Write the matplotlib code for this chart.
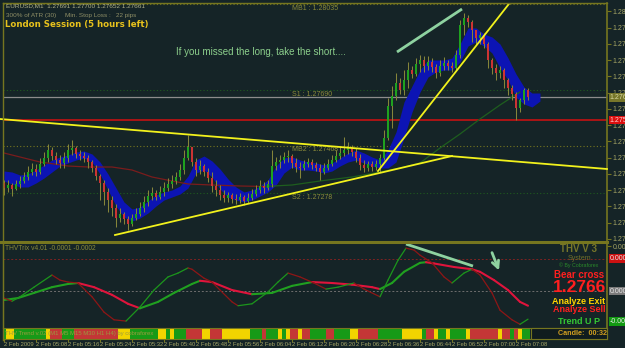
import numpy as np
import matplotlib
matplotlib.use("Agg")
import matplotlib.pyplot as plt
from matplotlib.collections import LineCollection
from matplotlib.transforms import blended_transform_factory as blend

plt.rcParams['font.family'] = ['Liberation Sans', 'DejaVu Sans']

# ---------------- data ----------------
first_open = 1.27318
close = [1.27298, 1.27310, 1.27294, 1.27314, 1.27326, 1.27342, 1.27362, 1.27374, 1.27362, 1.27394,
         1.27418, 1.27450, 1.27426, 1.27410, 1.27398, 1.27418, 1.27450, 1.27458, 1.27434, 1.27426,
         1.27418, 1.27402, 1.27378, 1.27346, 1.27318, 1.27282, 1.27250, 1.27218, 1.27178, 1.27194,
         1.27174, 1.27154, 1.27178, 1.27194, 1.27218, 1.27242, 1.27266, 1.27278, 1.27262, 1.27282,
         1.27298, 1.27314, 1.27326, 1.27342, 1.27370, 1.27418, 1.27462, 1.27402, 1.27370, 1.27386,
         1.27362, 1.27338, 1.27306, 1.27290, 1.27270, 1.27258, 1.27270, 1.27254, 1.27250, 1.27262,
         1.27246, 1.27258, 1.27274, 1.27290, 1.27306, 1.27298, 1.27314, 1.27386, 1.27402, 1.27410,
         1.27422, 1.27426, 1.27398, 1.27382, 1.27378, 1.27394, 1.27402, 1.27390, 1.27378, 1.27362,
         1.27378, 1.27394, 1.27410, 1.27426, 1.27438, 1.27450, 1.27458, 1.27442, 1.27418, 1.27390,
         1.27378, 1.27394, 1.27382, 1.27394, 1.27418, 1.27498, 1.27626, 1.27666, 1.27718, 1.27690,
         1.27730, 1.27770, 1.27754, 1.27794, 1.27810, 1.27786, 1.27802, 1.27782, 1.27758, 1.27786,
         1.27798, 1.27786, 1.27778, 1.27830, 1.27950, 1.27978, 1.27962, 1.27930, 1.27898, 1.27910,
         1.27874, 1.27810, 1.27778, 1.27758, 1.27770, 1.27730, 1.27698, 1.27674, 1.27618, 1.27650,
         1.27691, 1.27661]
high = [1.27330, 1.27330, 1.27318, 1.27330, 1.27346, 1.27362, 1.27386, 1.27398, 1.27394, 1.27418,
        1.27442, 1.27474, 1.27462, 1.27442, 1.27430, 1.27442, 1.27474, 1.27490, 1.27466, 1.27450,
        1.27442, 1.27430, 1.27410, 1.27390, 1.27354, 1.27330, 1.27298, 1.27266, 1.27234, 1.27218,
        1.27202, 1.27186, 1.27194, 1.27218, 1.27242, 1.27266, 1.27290, 1.27302, 1.27290, 1.27306,
        1.27322, 1.27338, 1.27350, 1.27362, 1.27394, 1.27450, 1.27510, 1.27462, 1.27418, 1.27410,
        1.27394, 1.27378, 1.27362, 1.27330, 1.27310, 1.27290, 1.27282, 1.27278, 1.27274, 1.27278,
        1.27270, 1.27278, 1.27294, 1.27310, 1.27330, 1.27322, 1.27330, 1.27450, 1.27422, 1.27430,
        1.27442, 1.27450, 1.27434, 1.27418, 1.27402, 1.27410, 1.27418, 1.27414, 1.27402, 1.27394,
        1.27398, 1.27414, 1.27430, 1.27450, 1.27462, 1.27502, 1.27482, 1.27470, 1.27458, 1.27434,
        1.27410, 1.27406, 1.27406, 1.27410, 1.27434, 1.27530, 1.27658, 1.27706, 1.27758, 1.27738,
        1.27770, 1.27802, 1.27786, 1.27818, 1.27830, 1.27826, 1.27826, 1.27818, 1.27794, 1.27810,
        1.27822, 1.27810, 1.27802, 1.27850, 1.27970, 1.27998, 1.27990, 1.27970, 1.27930, 1.27922,
        1.27918, 1.27882, 1.27818, 1.27794, 1.27786, 1.27778, 1.27738, 1.27710, 1.27682, 1.27658,
        1.27698, 1.27700]
low = [1.27270, 1.27282, 1.27266, 1.27290, 1.27298, 1.27318, 1.27330, 1.27350, 1.27346, 1.27354,
       1.27386, 1.27402, 1.27410, 1.27394, 1.27378, 1.27378, 1.27402, 1.27430, 1.27418, 1.27410,
       1.27402, 1.27378, 1.27362, 1.27330, 1.27250, 1.27230, 1.27202, 1.27186, 1.27142, 1.27162,
       1.27154, 1.27130, 1.27146, 1.27170, 1.27186, 1.27202, 1.27226, 1.27250, 1.27250, 1.27254,
       1.27266, 1.27286, 1.27298, 1.27314, 1.27330, 1.27354, 1.27410, 1.27386, 1.27346, 1.27354,
       1.27346, 1.27322, 1.27282, 1.27266, 1.27250, 1.27242, 1.27242, 1.27238, 1.27234, 1.27238,
       1.27230, 1.27238, 1.27250, 1.27266, 1.27278, 1.27278, 1.27290, 1.27302, 1.27370, 1.27378,
       1.27398, 1.27402, 1.27378, 1.27362, 1.27338, 1.27370, 1.27382, 1.27374, 1.27366, 1.27330,
       1.27354, 1.27370, 1.27386, 1.27402, 1.27414, 1.27426, 1.27434, 1.27426, 1.27402, 1.27370,
       1.27362, 1.27366, 1.27366, 1.27370, 1.27362, 1.27410, 1.27490, 1.27538, 1.27650, 1.27674,
       1.27670, 1.27698, 1.27738, 1.27746, 1.27762, 1.27762, 1.27770, 1.27762, 1.27738, 1.27746,
       1.27770, 1.27770, 1.27762, 1.27770, 1.27818, 1.27910, 1.27942, 1.27882, 1.27870, 1.27874,
       1.27858, 1.27778, 1.27754, 1.27730, 1.27738, 1.27698, 1.27670, 1.27650, 1.27570, 1.27602,
       1.27634, 1.27652]

band_idx = list(range(0, 135, 2))
band_top = [1.27366, 1.27362, 1.27350, 1.27354, 1.27370, 1.27390, 1.27410, 1.27422, 1.27430, 1.27442,
            1.27446, 1.27434, 1.27402, 1.27354, 1.27298, 1.27242, 1.27214, 1.27222, 1.27246, 1.27270,
            1.27282, 1.27290, 1.27306, 1.27346, 1.27410, 1.27426, 1.27406, 1.27374, 1.27334, 1.27302,
            1.27282, 1.27290, 1.27306, 1.27330, 1.27386, 1.27418, 1.27422, 1.27410, 1.27402, 1.27398,
            1.27390, 1.27398, 1.27418, 1.27438, 1.27450, 1.27438, 1.27422, 1.27410, 1.27450, 1.27522,
            1.27642, 1.27706, 1.27770, 1.27810, 1.27810, 1.27810, 1.27818, 1.27874, 1.27938, 1.27938,
            1.27914, 1.27902, 1.27874, 1.27818, 1.27754, 1.27702, 1.27678, 1.27678]
band_bot = [1.27326, 1.27314, 1.27302, 1.27302, 1.27318, 1.27338, 1.27362, 1.27386, 1.27398, 1.27410,
            1.27418, 1.27402, 1.27354, 1.27290, 1.27226, 1.27182, 1.27166, 1.27178, 1.27198, 1.27226,
            1.27250, 1.27262, 1.27274, 1.27298, 1.27358, 1.27370, 1.27342, 1.27294, 1.27262, 1.27250,
            1.27242, 1.27250, 1.27266, 1.27282, 1.27310, 1.27358, 1.27382, 1.27370, 1.27370, 1.27366,
            1.27358, 1.27366, 1.27386, 1.27402, 1.27410, 1.27398, 1.27386, 1.27378, 1.27378, 1.27402,
            1.27498, 1.27602, 1.27682, 1.27742, 1.27762, 1.27770, 1.27770, 1.27802, 1.27866, 1.27882,
            1.27866, 1.27838, 1.27778, 1.27730, 1.27662, 1.27634, 1.27622, 1.27646]

ma_fall_idx = [0, 4, 9, 16, 21, 27, 32, 37, 42, 46, 52, 59, 65]
ma_fall = [1.27438, 1.27422, 1.27402, 1.27386, 1.27382, 1.27382, 1.27370, 1.27342, 1.27326,
           1.27314, 1.27310, 1.27306, 1.27304]
ma_rise_idx = [65, 72, 79, 87, 94, 99, 104, 109, 114, 119, 124, 129]
ma_rise = [1.27304, 1.27310, 1.27326, 1.27342, 1.27362, 1.27378, 1.27398, 1.27458, 1.27514,
           1.27574, 1.27630, 1.27682]

mb1, s1, bid, red_level, mb2, s2 = 1.28035, 1.27690, 1.27661, 1.27570, 1.27468, 1.27278
price_ticks = [1.28005, 1.27940, 1.27875, 1.27810, 1.27745, 1.27680, 1.27615, 1.27550,
               1.27485, 1.27420, 1.27355, 1.27290, 1.27225, 1.27160, 1.27095]

trend_a_idx, trend_a = [-1, 150.75], [1.27574, 1.27374]
trend_b_idx, trend_b = [27.75, 112], [1.27110, 1.27426]
trend_c_idx, trend_c = [93.5, 127], [1.27366, 1.28050]
note_idx, note_price = [98.25, 114.5], [1.27842, 1.28014]

# THV Trix (x 1e-4)
trix_slow_idx = [0, 3.5, 7.5, 12, 16, 18.5, 22.5, 27, 31, 34, 38.5, 42.5, 47, 49, 52, 57, 62, 67,
                 72, 77, 82, 87, 92, 94, 97, 100, 104, 105.5, 107.5, 112.5, 117, 119, 122.5,
                 126, 129, 131]
trix_slow = [-1.4, -1.1, -0.3, 0.6, 1.1, 1.25, 0.6, -0.6, -2.0, -2.7, -1.7, -0.3, 1.1, 1.6, 1.4,
             0.15, -0.5, -0.3, 0.8, 1.4, 1.25, 1.0, 0.6, 0.3, 1.25, 3.0, 4.4, 4.5, 4.3, 3.75,
             3.4, 3.0, 1.7, 0.15, -1.7, -2.3]
trix_fast_idx = [0, 2, 4, 7.5, 12, 14, 16, 18.5, 22, 25, 27.5, 30.5, 34, 37.5, 41, 43.5, 46, 47,
                 50, 52, 54, 57, 58.5, 62, 66, 68.5, 71, 74, 77.5, 80.5, 83.5, 87.5, 90, 94, 96,
                 98.5, 100.5, 102.5, 104, 107, 110, 112, 115, 117, 119, 122, 124, 127, 129, 131]
trix_fast = [-1.1, -1.6, -0.9, 0.6, 2.5, 1.7, 1.4, 1.25, -0.9, -3.3, -4.5, -4.7, -2.5, 0.15, 2.2,
             2.8, 3.6, 3.4, 2.0, 1.4, 0.15, -1.7, -2.3, -2.0, -0.15, 1.4, 2.8, 2.2, 1.25, 0.3,
             0.6, 1.25, 0.3, -0.9, 1.7, 4.8, 6.7, 6.4, 5.6, 4.4, 2.2, 1.25, 2.8, 3.4, 2.5, -0.3,
             -3.0, -4.5, -5.2, -4.4]
note2_idx, note2_val = [100.5, 117.25], [7.34, 3.9]
arrow_idx, arrow_val = [121.75, 124.0], [6.4, 2.8]

trend_state = list("G" + "YY" + "GGGGGGGG" + "Y" + "RRR" + "GGG" + "RRRRRRRRRRR" + "YYY" +
                   "GGGGGGG" + "YY" + "G" + "Y" + "GGG" + "RRRR" + "YY" + "RRR" + "YYYYYYY" +
                   "GGG" + "R" + "GGG" + "Y" + "G" + "Y" + "RR" + "Y" + "RR" + "GGGG" + "RR" +
                   "GGGG" + "YY" + "RRRRR" + "GGGGGG" + "YYYYY" + "G" + "RR" + "Y" + "GG" + "Y" +
                   "GGGG" + "Y" + "RRRRRRR" + "Y" + "RR" + "G" + "R" + "Y" + "GG")
time_labels = ["2 Feb 2009", "2 Feb 05:08", "2 Feb 05:16", "2 Feb 05:24", "2 Feb 05:32",
               "2 Feb 05:40", "2 Feb 05:48", "2 Feb 05:56", "2 Feb 06:04", "2 Feb 06:12",
               "2 Feb 06:20", "2 Feb 06:28", "2 Feb 06:36", "2 Feb 06:44", "2 Feb 06:52",
               "2 Feb 07:00", "2 Feb 07:08"]
time_idx = list(range(0, 129, 8))

# ---------------- style ----------------
BG = '#152427'
OLIVE = '#76761f'
TXT = '#a4a466'
WICK = '#85853a'
GREEN = '#1fa21f'
RED = '#cc3434'
W, H = 625, 348


def rect(x0, y0, x1, y1):
    return [x0 / W, 1 - y1 / H, (x1 - x0) / W, (y1 - y0) / H]


fig = plt.figure(figsize=(6.25, 3.48), dpi=100, facecolor=BG)
XL = (-0.25, 150.75)

# ---------------- main price panel ----------------
ax = fig.add_axes(rect(3, 3, 607, 241))
ax.set_facecolor(BG)
ax.set_xlim(*XL)
ax.set_ylim(1.27086, 1.28038)
for sp in ['left', 'top', 'bottom']:
    ax.spines[sp].set_visible(False)
ax.spines['right'].set_color(OLIVE)
ax.spines['right'].set_linewidth(1.2)
ax.set_xticks([])
ax.yaxis.tick_right()
ax.set_yticks(price_ticks)
ax.set_yticklabels([f"{t:.5f}" for t in price_ticks])
ax.tick_params(axis='y', colors=OLIVE, labelcolor=TXT, labelsize=5, length=3, pad=1)

# levels
ax.axhline(mb1, color=OLIVE, lw=0.8, ls=(0, (1, 2)), zorder=1)
ax.axhline(s1, color='#1f5a1f', lw=0.8, ls=(0, (1, 2)), zorder=1)
ax.axhline(bid, color='#8c8c8c', lw=0.9, zorder=1)
ax.axhline(red_level, color='#d41010', lw=1.1, zorder=1)
ax.axhline(mb2, color=OLIVE, lw=0.8, ls=(0, (1, 2)), zorder=1)
ax.axhline(s2, color='#1f5a1f', lw=0.8, ls=(0, (1, 2)), zorder=1)
for lab, lv in [("MB1 : 1.28035", mb1), ("S1 : 1.27690", s1), ("MB2 : 1.27468", mb2),
                ("S2 : 1.27278", s2)]:
    ax.text(72, lv - 0.00003, lab, color='#8a8a3a', fontsize=5, va='top', ha='left', zorder=2)

# blue band
ax.fill_between(band_idx, band_bot, band_top, color='#0c14b4', lw=0, zorder=2)

# long moving average
ax.plot(ma_fall_idx, ma_fall, color='#7a1c1c', lw=0.9, zorder=2)
ax.plot(ma_rise_idx, ma_rise, color='#1e5e1e', lw=0.9, zorder=2)

# candles
c = np.array(close)
o = np.r_[first_open, c[:-1]]
h = np.maximum.reduce([np.array(high), o, c])
l = np.minimum.reduce([np.array(low), o, c])
idx = np.arange(len(c))
up = c >= o
ax.vlines(idx, l, h, color=WICK, lw=0.75, zorder=3)
ax.bar(idx, np.maximum(np.abs(c - o), 0.000025), bottom=np.minimum(o, c), width=0.74,
       color=np.where(up, GREEN, RED), lw=0, zorder=4)

# trend lines
ax.plot(trend_a_idx, trend_a, color='#f2f21c', lw=1.3, zorder=5, clip_on=False)
ax.plot(trend_b_idx, trend_b, color='#f2f21c', lw=1.3, zorder=5)
ax.plot(trend_c_idx, trend_c, color='#f2f21c', lw=1.3, zorder=5)
ax.plot(note_idx, note_price, color='#8ed2a0', lw=2.0, zorder=5, solid_capstyle='butt')

ax.text(43, 1.27842, "If you missed the long, take the short....", color='#8ccf8c',
        fontsize=7.0, family=['Liberation Sans Narrow', 'Liberation Sans', 'DejaVu Sans'],
        va='center', ha='left', zorder=6)

# axis boxes
tr = blend(ax.transAxes, ax.transData)
ax.text(1.004, bid, "1.27661", transform=tr, fontsize=5, color='#d8d8a0', va='center', ha='left',
        bbox=dict(fc='#77772a', ec='none', pad=0.6), clip_on=False, zorder=7)
ax.text(1.004, red_level, "1.27570", transform=tr, fontsize=5, color='#ffd0d0', va='center',
        ha='left', bbox=dict(fc='#dd0f0f', ec='none', pad=0.6), clip_on=False, zorder=7)

# ---------------- indicator panel ----------------
ax2 = fig.add_axes(rect(3, 243, 607, 328))
ax2.set_facecolor(BG)
ax2.set_xlim(*XL)
ax2.set_ylim(-5.78, 7.5)
for sp in ['top', 'bottom']:
    ax2.spines[sp].set_visible(False)
ax2.spines['left'].set_color(OLIVE)
ax2.spines['right'].set_color(OLIVE)
ax2.spines['right'].set_linewidth(1.2)
ax2.set_xticks([])
ax2.yaxis.tick_right()
ax2.set_yticks([7.0])
ax2.set_yticklabels(["0.0007"])
ax2.tick_params(axis='y', colors=OLIVE, labelcolor=TXT, labelsize=5, length=3, pad=1)
ax2.axhline(5.0, color='#7e2222', lw=0.7, ls=(0, (2, 2)))
ax2.axhline(0.0, color='#6e6e6e', lw=0.7, ls=(0, (2, 2)))


def colored(ax_, xs, ys, up_c, dn_c, lw):
    xs = np.asarray(xs, float)
    ys = np.asarray(ys, float)
    segs = np.stack([np.c_[xs[:-1], ys[:-1]], np.c_[xs[1:], ys[1:]]], axis=1)
    cols = [up_c if ys[i + 1] >= ys[i] else dn_c for i in range(len(ys) - 1)]
    ax_.add_collection(LineCollection(segs, colors=cols, linewidths=lw, capstyle='round',
                                      zorder=3))


colored(ax2, trix_slow_idx, trix_slow, '#20a020', '#e0143c', 1.5)
colored(ax2, trix_fast_idx, trix_fast, '#1c961c', '#8e1616', 0.9)
ax2.plot(note2_idx, note2_val, color='#8ed2a0', lw=2.0, zorder=5, solid_capstyle='butt')
ax2.annotate("", xy=(arrow_idx[1], arrow_val[1]), xytext=(arrow_idx[0], arrow_val[0]),
             arrowprops=dict(arrowstyle='->', color='#8ed2a0', lw=2.0, mutation_scale=12),
             zorder=5)
tr2 = blend(ax2.transAxes, ax2.transData)
for val, txt, fc in [(5.1, "0.0005", '#cc1111'), (0.0, "0.0000", '#7a7a7a'),
                     (-4.8, "-0.0005", '#129a12')]:
    ax2.text(1.004, val, txt, transform=tr2, fontsize=5, color='#e8e8e8', va='center',
             ha='left', bbox=dict(fc=fc, ec='none', pad=0.6), clip_on=False)
ax2.text(0.004, 0.93, "THVTrix v4.01 -0.0001 -0.0002", transform=ax2.transAxes, fontsize=4.8,
         color='#8a8a3a', va='center', ha='left')

# ---------------- trend strip ----------------
ax3 = fig.add_axes(rect(3, 328, 607, 339))
ax3.set_facecolor(BG)
ax3.set_xlim(*XL)
ax3.set_ylim(0, 1)
cmap = {'G': '#179a17', 'R': '#c43636', 'Y': '#f2d400'}
ax3.bar(np.arange(len(trend_state)), 1, width=0.86,
        color=[cmap[s] for s in trend_state], lw=0, align='center')
for sp in ax3.spines.values():
    sp.set_color(OLIVE)
ax3.spines['left'].set_visible(False)
ax3.set_yticks([])
ax3.set_xticks(time_idx)
ax3.set_xticklabels(time_labels, ha='left')
ax3.tick_params(axis='x', colors=OLIVE, labelcolor=TXT, labelsize=4.2, length=2, pad=0.2)
ax3.text(0.004, 0.5, "THV Trend v.02 (M1 M5 M15 M30 H1 H4) by cobraforex",
         transform=ax3.transAxes, fontsize=4.3, color='#9a9a40', va='center', ha='left')

# ---------------- overlay: frame & texts ----------------
ov = fig.add_axes([0, 0, 1, 1])
ov.set_xlim(0, W)
ov.set_ylim(H, 0)
ov.axis('off')
ov.patch.set_alpha(0)
ov.plot([3, 607], [3, 3], color=OLIVE, lw=1.0)
ov.plot([3, 3], [3, 340], color=OLIVE, lw=1.0)
ov.plot([0, 607], [242, 242], color=OLIVE, lw=2.2)
ov.add_patch(plt.Rectangle((531, 328), 76, 11, fc='#101c1e', ec=OLIVE, lw=0.8))

ov.text(6, 5.5, "EURUSD,M1  1.27691 1.27700 1.27652 1.27661", fontsize=4.6, color='#b0b088',
        va='center', ha='left')
ov.text(6, 15.5, "300% of ATR (30)     Min. Stop Loss :   22 pips", fontsize=4.6,
        color='#8f8f66', va='center', ha='left')
ov.text(5, 24, "London Session (5 hours left)", fontsize=6.2, fontweight='bold',
        family=['DejaVu Sans'], color='#e8c21c', va='center', ha='left')

cx = 579
ov.text(cx, 249.5, "THV V 3", fontsize=7, fontweight='bold', color='#76762a', va='center',
        ha='center')
ov.text(cx, 258.5, "System", fontsize=5, color='#6e6e2a', va='center', ha='center')
ov.text(cx, 265, "\u00a9 By Cobraforex", fontsize=3.8, color='#2a8a2a', va='center',
        ha='center')
ov.text(cx, 275, "Bear cross", fontsize=7, fontweight='bold', color='#ff1f1f', va='center',
        ha='center')
ov.text(cx, 287.5, "1.2766", fontsize=12.5, fontweight='bold', color='#ff1f1f', va='center',
        ha='center')
ov.text(cx, 301.5, "Analyze Exit", fontsize=6.5, fontweight='bold', color='#ffd400',
        va='center', ha='center')
ov.text(cx, 309.5, "Analyze Sell", fontsize=6.5, fontweight='bold', color='#ff1f1f',
        va='center', ha='center')
ov.text(cx, 321, "Trend U P", fontsize=6.5, fontweight='bold', color='#34c834', va='center',
        ha='center')
ov.text(582, 333.5, "Candle:  00:32", fontsize=5.2, fontweight='bold', color='#d2a020',
        va='center', ha='center')

fig.savefig("out.png", dpi=100, facecolor=BG)
